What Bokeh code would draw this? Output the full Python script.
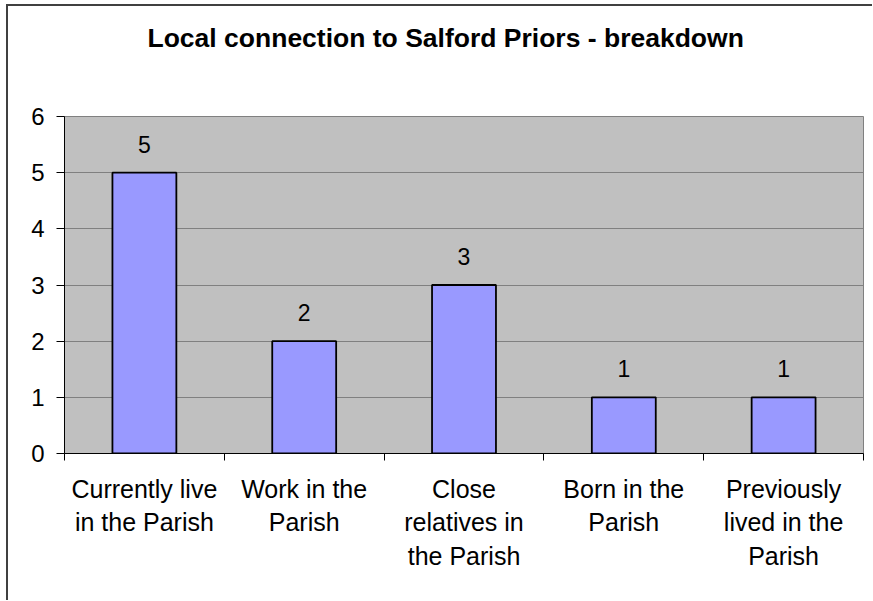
from bokeh.plotting import figure
from bokeh.models import Range1d, FixedTicker, ColumnDataSource, LabelSet, Title, InlineStyleSheet
from bokeh.core.properties import value
from bokeh.embed import file_html
from bokeh.resources import INLINE

# ---- data ----
categories = ["Currently live in the Parish", "Work in the Parish",
              "Close relatives in the Parish", "Born in the Parish",
              "Previously lived in the Parish"]
category_labels = ["Currently live\nin the Parish", "Work in the\nParish",
                   "Close\nrelatives in\nthe Parish", "Born in the\nParish",
                   "Previously\nlived in the\nParish"]
values = [5, 2, 3, 1, 1]
y_ticks = [0, 1, 2, 3, 4, 5, 6]
title_text = "Local connection to Salford Priors - breakdown"

FONT = "Liberation Sans"

n = len(categories)
centers = [i + 0.5 for i in range(n)]
boundaries = list(range(n + 1))

src = ColumnDataSource(dict(x=centers, top=values, label=[str(v) for v in values]))

border_css = InlineStyleSheet(css=":host { border-top: 2px solid #404040; border-left: 2px solid #404040; }")

p = figure(x_range=Range1d(0, n), y_range=Range1d(y_ticks[0], y_ticks[-1]),
           frame_width=799, frame_height=337,
           min_border_left=56, min_border_top=110, min_border_right=9, min_border_bottom=147,
           output_backend="svg", toolbar_location=None,
           margin=(4, 0, 0, 6),
           stylesheets=[border_css])

p.background_fill_color = "#C0C0C0"
p.border_fill_color = "white"
p.outline_line_color = "#808080"
p.outline_line_width = 1

# real title (outer)
p.title.text = title_text
p.title.align = "left"
p.title.offset = 83
p.title.standoff = 0
p.title.text_font = FONT
p.title.text_font_size = "26.5px"
p.title.text_font_style = "bold"
p.title.text_color = "black"

# spacer (closest to the frame) that lifts the title
spacer = Title(text=" ", text_font_size="1px", standoff=61)
p.add_layout(spacer, "above")

# bars
p.vbar(x="x", top="top", width=0.4, source=src, fill_color="#9999FF",
       line_color="black", line_width=1.8)

labels = LabelSet(x="x", y="top", text="label", source=src, y_offset=20,
                  text_align="center", text_baseline="bottom",
                  text_font=value(FONT), text_font_size=value("23px"), text_color="black")
p.add_layout(labels)

# y axis
yax = p.yaxis[0]
yax.ticker = FixedTicker(ticks=y_ticks)
yax.axis_line_color = "black"
yax.major_tick_line_color = "black"
yax.major_tick_out = 8
yax.major_tick_in = 0
yax.minor_tick_line_color = None
yax.major_label_text_font = FONT
yax.major_label_text_font_size = "24px"
yax.major_label_text_color = "black"
yax.major_label_standoff = 12

# x axis
xax = p.xaxis[0]
xax.ticker = FixedTicker(ticks=centers, minor_ticks=boundaries)
xax.major_label_overrides = {c: lab for c, lab in zip(centers, category_labels)}
xax.axis_line_color = "black"
xax.major_tick_line_color = None
xax.major_tick_out = 0
xax.major_tick_in = 0
xax.minor_tick_line_color = "black"
xax.minor_tick_out = 7
xax.minor_tick_in = 0
xax.major_label_text_font = FONT
xax.major_label_text_font_size = "25px"
xax.major_label_text_color = "black"
xax.major_label_text_line_height = 1.2
xax.major_label_standoff = 14

# grid
p.xgrid.grid_line_color = None
p.ygrid.grid_line_color = "#808080"
p.ygrid.grid_line_width = 1

open("out.html", "w").write(file_html(p, INLINE))
